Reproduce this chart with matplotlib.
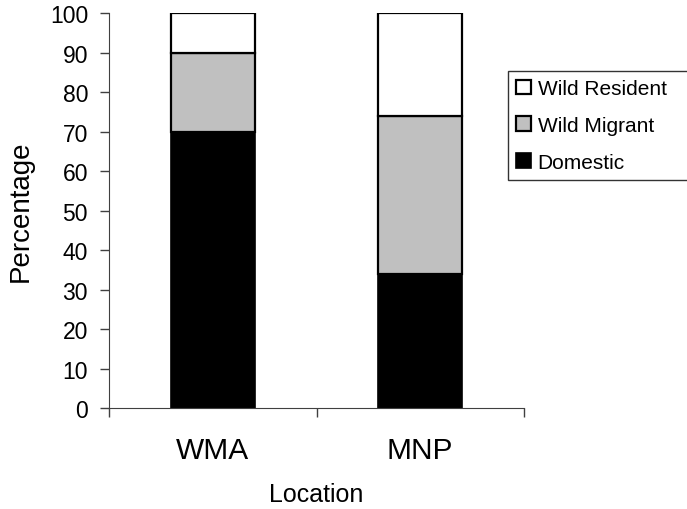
import numpy as np
import matplotlib
matplotlib.use("Agg")
import matplotlib.pyplot as plt

plt.rcParams['font.family'] = ['Liberation Sans', 'DejaVu Sans']

# data
locations = ["WMA", "MNP"]
domestic = [70, 34]
wild_migrant = [20, 40]
wild_resident = [10, 26]

fig = plt.figure(figsize=(6.87, 5.10), dpi=100)
ax = fig.add_axes([0.1587, 0.198, 0.604, 0.7745])

x = np.arange(len(locations))
w = 0.405
b1 = ax.bar(x, domestic, w, color='black', edgecolor='black', lw=1.2, label='Domestic')
b2 = ax.bar(x, wild_migrant, w, bottom=domestic, color='#c0c0c0', edgecolor='black',
            lw=1.6, label='Wild Migrant')
bot = np.array(domestic) + np.array(wild_migrant)
b3 = ax.bar(x, wild_resident, w, bottom=bot, color='white', edgecolor='black',
            lw=1.6, label='Wild Resident')

ax.set_xlim(-0.5, 1.5)
ax.set_ylim(0, 100)
ax.set_yticks(range(0, 101, 10))
ax.tick_params(axis='y', labelsize=16.5, length=6.5, width=1, pad=8.6, color='#404040')

# category ticks sit between the bars, labels at bar centres
ax.set_xticks([-0.5, 0.5, 1.5])
ax.set_xticklabels([])
ax.set_xticks(x, minor=True)
ax.set_xticklabels(locations, minor=True, fontsize=21.5)
ax.tick_params(axis='x', which='minor', length=0, pad=20)
ax.tick_params(axis='x', which='major', length=6.5, width=1, color='#404040')

for s in ['top', 'right']:
    ax.spines[s].set_visible(False)
for s in ['left', 'bottom']:
    ax.spines[s].set_color('#404040')

ax.set_ylabel('Percentage', fontsize=20, labelpad=11.5)
ax.set_xlabel('Location', fontsize=18, labelpad=13)

leg = fig.legend([b3, b2, b1], ['Wild Resident', 'Wild Migrant', 'Domestic'],
                 loc='upper left', mode='expand',
                 bbox_to_anchor=(508 / 687, 1 - 183 / 510, 190 / 687, 111 / 510),
                 fontsize=15, frameon=True, fancybox=False,
                 handlelength=0.72, handleheight=0.72, handletextpad=0.3,
                 labelspacing=0.85, borderpad=0.4, borderaxespad=0)
leg.get_frame().set_edgecolor('black')
leg.get_frame().set_linewidth(1)

fig.savefig('out.png', dpi=100)
